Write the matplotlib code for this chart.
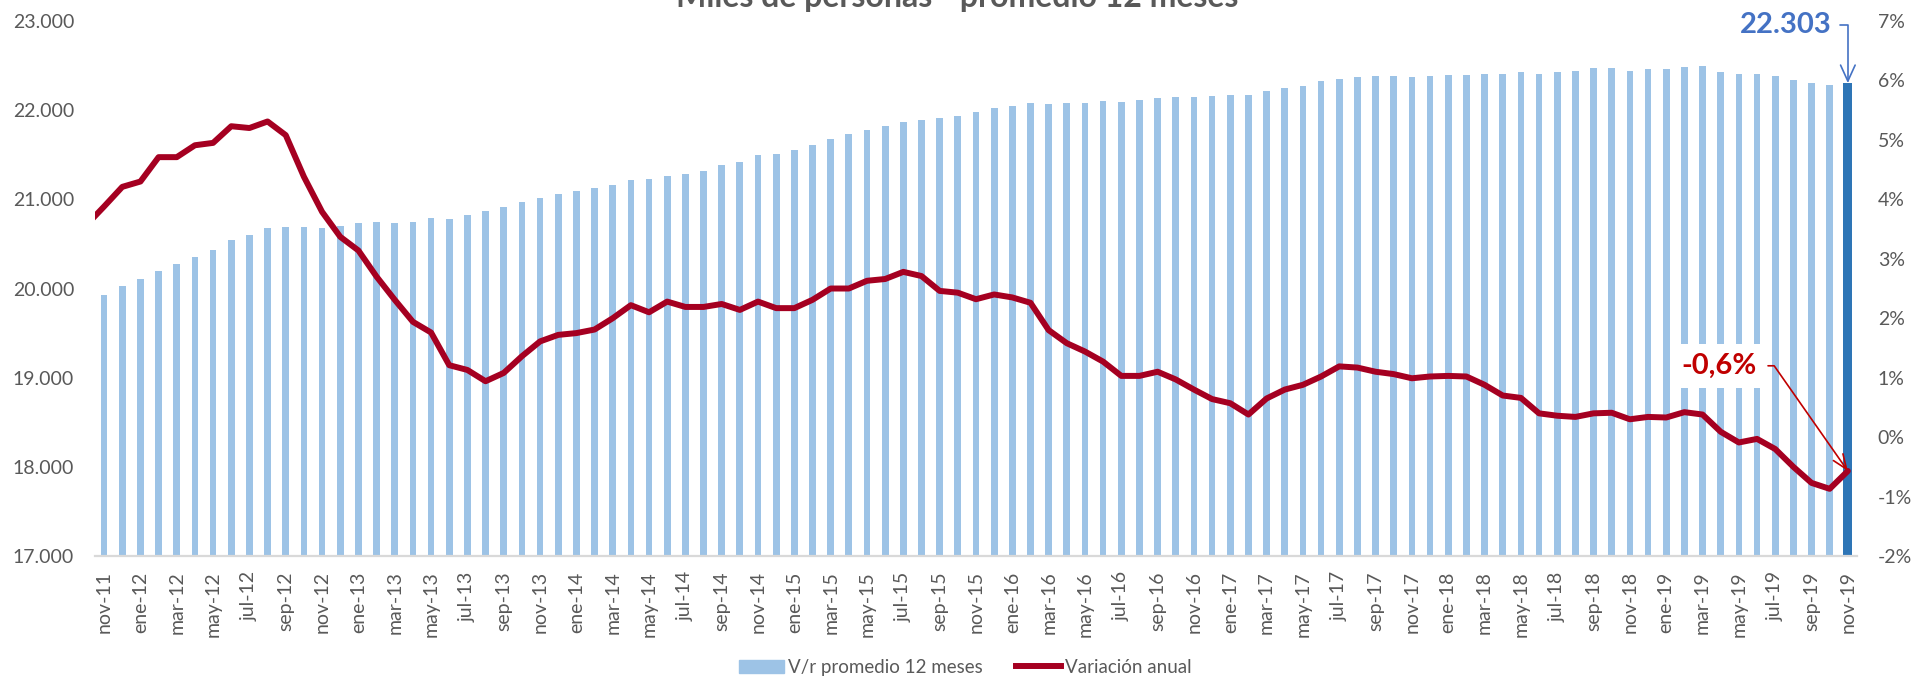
import numpy as np
import matplotlib.pyplot as plt
from matplotlib.patches import Patch
from matplotlib.lines import Line2D
from matplotlib.ticker import FuncFormatter

plt.rcParams['font.family'] = ['Lato', 'DejaVu Sans']

#%% data

meses = ["ene", "feb", "mar", "abr", "may", "jun", "jul", "ago", "sep", "oct", "nov", "dic"]
# nov-11 .. nov-19, one label per month
periodos = [f"{meses[(10 + i) % 12]}-{11 + (10 + i) // 12}" for i in range(97)]

# miles de personas, promedio 12 meses (nov-11 .. nov-19)
ocupados = [19927, 20028, 20110, 20200, 20275, 20353, 20432, 20544, 20600, 20675,
            20689, 20689, 20682, 20704, 20731, 20745, 20738, 20749, 20787, 20783,
            20827, 20869, 20914, 20970, 21011, 21060, 21090, 21123, 21157, 21213,
            21224, 21265, 21288, 21321, 21385, 21415, 21493, 21512, 21549, 21605,
            21676, 21736, 21777, 21822, 21867, 21893, 21908, 21934, 21975, 22024,
            22046, 22083, 22069, 22076, 22083, 22098, 22091, 22113, 22136, 22143,
            22151, 22158, 22166, 22170, 22214, 22251, 22274, 22322, 22348, 22371,
            22378, 22378, 22367, 22386, 22397, 22397, 22408, 22408, 22423, 22408,
            22431, 22442, 22468, 22468, 22439, 22461, 22465, 22487, 22491, 22428,
            22401, 22401, 22383, 22334, 22300, 22278, 22303]

# variacion anual en % (oct-11 .. nov-19); oct-11 only shows as the stub at the left edge
variacion = [3.56, 3.88, 4.21,
             4.30, 4.71, 4.71, 4.91, 4.95, 5.23, 5.20, 5.31, 5.08, 4.38, 3.79, 3.37,
             3.14, 2.70, 2.31, 1.94, 1.76, 1.21, 1.13, 0.94, 1.08, 1.36, 1.61, 1.72,
             1.75, 1.81, 2.00, 2.22, 2.10, 2.28, 2.19, 2.19, 2.24, 2.14, 2.28, 2.17,
             2.17, 2.31, 2.50, 2.50, 2.63, 2.66, 2.78, 2.71, 2.46, 2.43, 2.32, 2.40,
             2.35, 2.26, 1.80, 1.58, 1.44, 1.27, 1.03, 1.03, 1.10, 0.97, 0.80, 0.64,
             0.57, 0.38, 0.65, 0.80, 0.88, 1.02, 1.19, 1.17, 1.10, 1.06, 0.99, 1.02,
             1.03, 1.02, 0.88, 0.70, 0.66, 0.40, 0.36, 0.34, 0.40, 0.41, 0.30, 0.34,
             0.33, 0.42, 0.38, 0.09, -0.09, -0.03, -0.20, -0.50, -0.77, -0.87, -0.57]

#%% plot

gray = "#595959"
n = len(ocupados)
x = np.arange(n)

fig = plt.figure(figsize=(19.12, 6.76), dpi=100)
ax = fig.add_axes([0.0497, 0.1775, 0.9215, 0.7914])

colors = ["#9DC3E6"] * (n - 1) + ["#2E75B6"]
widths = [0.37] * (n - 1) + [0.5]
ax.bar(x, ocupados, width=widths, color=colors, zorder=1)
ax.set_xlim(-0.5, n - 0.5)
ax.set_ylim(17000, 23000)
ax.set_yticks(range(17000, 23001, 1000))
ax.yaxis.set_major_formatter(FuncFormatter(lambda v, p: f"{v:,.0f}".replace(",", ".")))
ax.set_xticks(x[::2])
ax.set_xticklabels(periodos[::2], rotation=90)
for s in ["left", "right", "top"]:
    ax.spines[s].set_visible(False)
ax.spines["bottom"].set_color("#D9D9D9")
ax.spines["bottom"].set_linewidth(1.6)
ax.tick_params(axis="y", length=0, colors=gray, labelsize=14, pad=15)
ax.tick_params(axis="x", length=0, colors=gray, labelsize=14, pad=11)

ax2 = ax.twinx()
ax2.plot(np.arange(-1, n), variacion, color="#A50021", lw=4.3,
         solid_joinstyle="round", solid_capstyle="round")
ax2.set_ylim(-2, 7)
ax2.set_yticks(range(-2, 8))
ax2.yaxis.set_major_formatter(FuncFormatter(lambda v, p: f"{v:.0f}%"))
for s in ax2.spines.values():
    s.set_visible(False)
ax2.tick_params(axis="y", length=0, colors=gray, labelsize=14, pad=15)

# call-outs
ax.annotate("22.303", xy=(n - 1, ocupados[-1]), xytext=(92.6, 22955),
            ha="center", va="center", fontsize=21, fontweight="bold", color="#4472C4",
            arrowprops=dict(arrowstyle="->,head_length=0.55,head_width=0.25", color="#4472C4",
                            lw=1.2, shrinkA=4, shrinkB=0,
                            connectionstyle="angle,angleA=0,angleB=90,rad=0"))
ax2.annotate("-0,6%", xy=(n - 1, variacion[-1]), xytext=(88.9, 1.2),
             ha="center", va="center", fontsize=21, fontweight="bold", color="#C00000",
             bbox=dict(boxstyle="square,pad=0.3", fc="white", ec="none"),
             arrowprops=dict(arrowstyle="->,head_length=0.5,head_width=0.2", color="#C00000",
                             lw=1.2, shrinkA=2, shrinkB=0,
                             connectionstyle="angle,angleA=0,angleB=125,rad=0"))

# title sits partly above the canvas, as in the source image
fig.text(0.5005, 1 - 7 / 676, "Miles de personas - promedio 12 meses", ha="center",
         va="baseline", fontsize=23, fontweight="bold", color=gray)

handles = [Patch(color="#9DC3E6"), Line2D([], [], color="#A50021", lw=4.3)]
fig.legend(handles, ["V/r promedio 12 meses", "Variación anual"], loc="lower center",
           bbox_to_anchor=(0.505, -0.025), ncol=2, frameon=False, fontsize=13.5,
           handlelength=2.4, handletextpad=0.2, columnspacing=1.8, labelcolor=gray)

fig.savefig("out.png", dpi=100)
